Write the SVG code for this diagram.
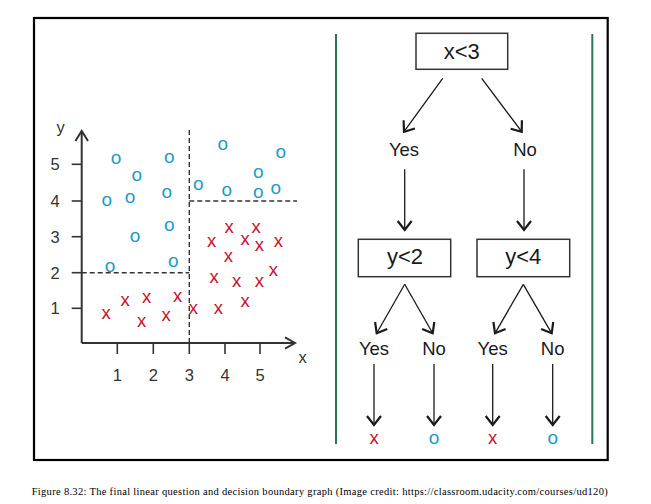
<svg xmlns="http://www.w3.org/2000/svg" width="651" height="504" viewBox="0 0 651 504">
<style>
.ax{stroke:#333;stroke-width:2;fill:none}
.tk{stroke:#333;stroke-width:1.6}
.dash{stroke:#333;stroke-width:1.4;stroke-dasharray:5 3;fill:none}
.lbl{font-family:"Liberation Sans",Arial,sans-serif;font-size:16.5px;fill:#333;text-anchor:middle}
.o{font-family:"Liberation Sans",Arial,sans-serif;font-size:19px;fill:#1e9bcb;text-anchor:middle}
.x{font-family:"Liberation Sans",Arial,sans-serif;font-size:18.5px;fill:#c8102e;text-anchor:middle}
.t{font-family:"Liberation Sans",Arial,sans-serif;font-size:18.5px;fill:#1a1a1a;text-anchor:middle}
.bt{font-family:"Liberation Sans",Arial,sans-serif;font-size:22px;fill:#1a1a1a;text-anchor:middle}
.box{fill:#fff;stroke:#333;stroke-width:1.5}
.ln{stroke:#1a1a1a;stroke-width:1.3;fill:none}
.g{stroke:#2f7355;stroke-width:2}
.cap{font-family:"Liberation Serif","Times New Roman",serif;font-size:10.5px;fill:#000}
</style>
<defs>
<marker id="ah" markerUnits="userSpaceOnUse" orient="auto" refX="0" refY="0" markerWidth="20" markerHeight="20" viewBox="-12 -10 14 20" overflow="visible">
<path d="M-9,-7 L0,0 L-9,7" fill="none" stroke="#1a1a1a" stroke-width="2.2"/>
</marker>
</defs>
<rect width="651" height="504" fill="#fff"/>
<rect x="34" y="18" width="573.7" height="442" fill="none" stroke="#000" stroke-width="2.2"/>
<line class="g" x1="336" y1="34" x2="336" y2="444"/>
<line class="g" x1="592.3" y1="34" x2="592.3" y2="444"/>

<g id="plot">
<line class="ax" x1="81.7" y1="343" x2="81.7" y2="132"/>
<line class="ax" x1="81.7" y1="343" x2="294" y2="343"/>
<polyline class="ax" stroke-width="2.4" points="75.4,141 81.7,131 88,141"/>
<polyline class="ax" stroke-width="2.4" points="285,337.3 295,343 285,348.7"/>
<g>
<line class="tk" x1="71.7" y1="164.3" x2="81.7" y2="164.3"/>
<line class="tk" x1="71.7" y1="201" x2="81.7" y2="201"/>
<line class="tk" x1="71.7" y1="236.7" x2="81.7" y2="236.7"/>
<line class="tk" x1="71.7" y1="272.7" x2="81.7" y2="272.7"/>
<line class="tk" x1="71.7" y1="308.3" x2="81.7" y2="308.3"/>
<line class="tk" x1="117.3" y1="343" x2="117.3" y2="354"/>
<line class="tk" x1="153.3" y1="343" x2="153.3" y2="354"/>
<line class="tk" x1="189.3" y1="343" x2="189.3" y2="354"/>
<line class="tk" x1="225" y1="343" x2="225" y2="354"/>
<line class="tk" x1="260" y1="343" x2="260" y2="354"/>
</g>
<text class="lbl" x="55" y="170.3">5</text>
<text class="lbl" x="55" y="207">4</text>
<text class="lbl" x="55" y="242.7">3</text>
<text class="lbl" x="55" y="278.7">2</text>
<text class="lbl" x="55" y="314.3">1</text>
<text class="lbl" x="117.3" y="380.7">1</text>
<text class="lbl" x="153.3" y="380.7">2</text>
<text class="lbl" x="189.3" y="380.7">3</text>
<text class="lbl" x="225" y="380.7">4</text>
<text class="lbl" x="260" y="380.7">5</text>
<text class="lbl" x="60.7" y="132.7" font-size="19">y</text>
<text class="lbl" x="302.7" y="363" font-size="19">x</text>
<line class="dash" x1="189.3" y1="130" x2="189.3" y2="343"/>
<line class="dash" x1="81.7" y1="272.7" x2="189.3" y2="272.7"/>
<line class="dash" x1="189.3" y1="201" x2="297" y2="201"/>
<g>
<text class="o" x="116" y="164.3">o</text>
<text class="o" x="136.7" y="181">o</text>
<text class="o" x="106.7" y="205.7">o</text>
<text class="o" x="130" y="203.3">o</text>
<text class="o" x="169.3" y="162.7">o</text>
<text class="o" x="166.7" y="198.3">o</text>
<text class="o" x="135" y="241.7">o</text>
<text class="o" x="169.3" y="231">o</text>
<text class="o" x="110" y="272.3">o</text>
<text class="o" x="173.3" y="266.7">o</text>
<text class="o" x="222.7" y="150">o</text>
<text class="o" x="198.3" y="190">o</text>
<text class="o" x="226.7" y="195.7">o</text>
<text class="o" x="258.3" y="177.7">o</text>
<text class="o" x="258.3" y="198.3">o</text>
<text class="o" x="280.7" y="158.3">o</text>
<text class="o" x="275.7" y="194.3">o</text>
</g>
<g>
<text class="x" x="106" y="319">x</text>
<text class="x" x="125" y="305.7">x</text>
<text class="x" x="146.7" y="303.3">x</text>
<text class="x" x="141.7" y="326.7">x</text>
<text class="x" x="166" y="320.7">x</text>
<text class="x" x="177.7" y="302.3">x</text>
<text class="x" x="193.3" y="314.3">x</text>
<text class="x" x="218.3" y="314.3">x</text>
<text class="x" x="211.7" y="246.7">x</text>
<text class="x" x="229" y="233.3">x</text>
<text class="x" x="228.3" y="261.7">x</text>
<text class="x" x="214" y="283.3">x</text>
<text class="x" x="236.7" y="287.3">x</text>
<text class="x" x="245" y="306.7">x</text>
<text class="x" x="245" y="245">x</text>
<text class="x" x="256" y="232.8">x</text>
<text class="x" x="259.3" y="251">x</text>
<text class="x" x="278.3" y="247.3">x</text>
<text class="x" x="273.3" y="276">x</text>
<text class="x" x="259.3" y="287.3">x</text>
</g>
</g>

<g id="connectors">
<line class="ln" x1="442.7" y1="78.3" x2="404" y2="131.7" marker-end="url(#ah)"/>
<line class="ln" x1="481.7" y1="78.3" x2="521.7" y2="131.7" marker-end="url(#ah)"/>
<line class="ln" x1="404.7" y1="169.3" x2="404.7" y2="230" marker-end="url(#ah)"/>
<line class="ln" x1="524" y1="169.3" x2="524" y2="230" marker-end="url(#ah)"/>
<line class="ln" x1="404.7" y1="284.3" x2="376.7" y2="333.3" marker-end="url(#ah)"/>
<line class="ln" x1="404.7" y1="284.3" x2="432.7" y2="333.3" marker-end="url(#ah)"/>
<line class="ln" x1="523.3" y1="284.3" x2="495" y2="333.3" marker-end="url(#ah)"/>
<line class="ln" x1="523.3" y1="284.3" x2="551.7" y2="333.3" marker-end="url(#ah)"/>
<line class="ln" x1="374" y1="364" x2="374" y2="425" marker-end="url(#ah)"/>
<line class="ln" x1="434" y1="364" x2="434" y2="425" marker-end="url(#ah)"/>
<line class="ln" x1="492.7" y1="364" x2="492.7" y2="425" marker-end="url(#ah)"/>
<line class="ln" x1="552.7" y1="364" x2="552.7" y2="425" marker-end="url(#ah)"/>
</g>

<g id="root">
<rect class="box" x="416" y="33.3" width="91.7" height="36"/>
<text class="bt" x="461.7" y="59.3">x&lt;3</text>
</g>
<g id="yes1"><text class="t" x="404" y="156">Yes</text></g>
<g id="no1"><text class="t" x="525" y="156">No</text></g>
<g id="ylt2">
<rect class="box" x="358.3" y="239.3" width="92.4" height="37.4"/>
<text class="bt" x="405" y="264">y&lt;2</text>
</g>
<g id="ylt4">
<rect class="box" x="477" y="239.3" width="92.7" height="37.4"/>
<text class="bt" x="523.3" y="264">y&lt;4</text>
</g>
<g id="yes2"><text class="t" x="374" y="355">Yes</text></g>
<g id="no2"><text class="t" x="434" y="355">No</text></g>
<g id="yes3"><text class="t" x="492.7" y="355">Yes</text></g>
<g id="no3"><text class="t" x="552.7" y="355">No</text></g>
<g id="leaf1"><text class="x" x="374" y="443.5">x</text></g>
<g id="leaf2"><text class="o" x="434" y="443.5">o</text></g>
<g id="leaf3"><text class="x" x="492.7" y="443.5">x</text></g>
<g id="leaf4"><text class="o" x="552.7" y="443.5">o</text></g>

<text class="cap" x="31.7" y="494.5" textLength="576" lengthAdjust="spacing">Figure 8.32: The final linear question and decision boundary graph (Image credit: https://classroom.udacity.com/courses/ud120)</text>
</svg>
